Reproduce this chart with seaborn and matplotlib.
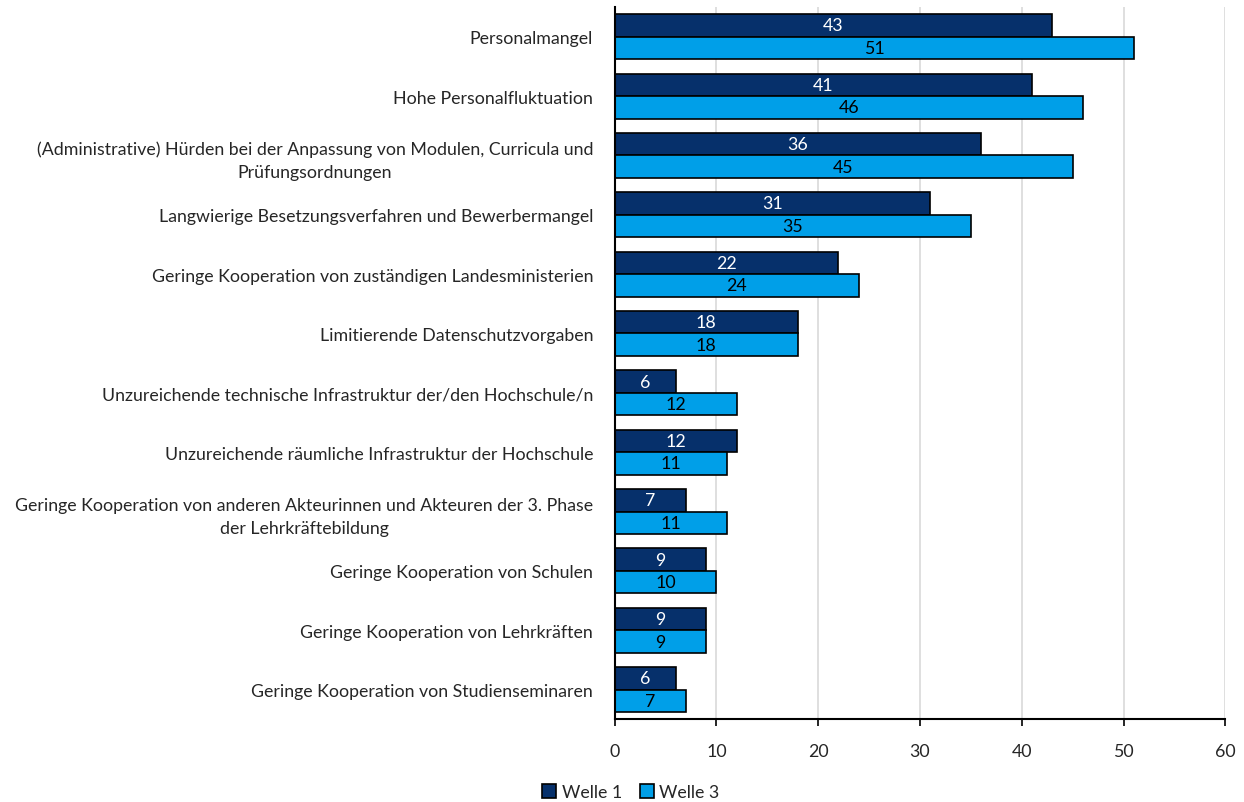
import pandas as pd
import matplotlib.pyplot as plt
import seaborn as sns

# categories (top to bottom) and values per wave
categories = [
    "Personalmangel",
    "Hohe Personalfluktuation",
    "(Administrative) Hürden bei der Anpassung von Modulen, Curricula und\nPrüfungsordnungen",
    "Langwierige Besetzungsverfahren und Bewerbermangel",
    "Geringe Kooperation von zuständigen Landesministerien",
    "Limitierende Datenschutzvorgaben",
    "Unzureichende technische Infrastruktur der/den Hochschule/n",
    "Unzureichende räumliche Infrastruktur der Hochschule",
    "Geringe Kooperation von anderen Akteurinnen und Akteuren der 3. Phase\nder Lehrkräftebildung",
    "Geringe Kooperation von Schulen",
    "Geringe Kooperation von Lehrkräften",
    "Geringe Kooperation von Studienseminaren",
]
welle_1 = [43, 41, 36, 31, 22, 18, 6, 12, 7, 9, 9, 6]
welle_3 = [51, 46, 45, 35, 24, 18, 12, 11, 11, 10, 9, 7]
series_names = ["Welle 1", "Welle 3"]

df = pd.DataFrame({"Kategorie": categories, "Welle 1": welle_1, "Welle 3": welle_3})
long_df = df.melt(id_vars="Kategorie", var_name="Welle", value_name="Wert")

sns.set_style("white")
plt.rcParams["font.family"] = ["Lato", "DejaVu Sans"]

colors = {"Welle 1": "#06306b", "Welle 3": "#009fe8"}
fs = 12.8

fig, ax = plt.subplots(figsize=(12.44, 8.03), dpi=100)
fig.subplots_adjust(left=0.494, right=0.985, top=0.99, bottom=0.103)

sns.barplot(data=long_df, y="Kategorie", x="Wert", hue="Welle", hue_order=series_names,
            order=categories, palette=colors, saturation=1, orient="h", width=0.76,
            edgecolor="black", linewidth=1.2, ax=ax, legend=True)

# value labels
for cont, name in zip(ax.containers, series_names):
    txt_color = "white" if name == "Welle 1" else "black"
    ax.bar_label(cont, labels=[f"{v:.0f}" for v in cont.datavalues], label_type="center",
                 color=txt_color, fontsize=fs)

ax.set_xlim(0, 60)
ax.set_xticks(range(0, 61, 10))
ax.xaxis.grid(True, color="#d9d9d9", linewidth=1.2)
ax.set_axisbelow(True)
ax.set_xlabel("")
ax.set_ylabel("")
for s in ["top", "right"]:
    ax.spines[s].set_visible(False)
ax.spines["left"].set_color("black")
ax.spines["bottom"].set_color("black")
ax.spines["left"].set_linewidth(1.5)
ax.spines["bottom"].set_linewidth(1.5)
ax.tick_params(axis="x", bottom=True, length=5, width=1.2, color="black", labelsize=fs, pad=12)
ax.tick_params(axis="y", left=False, labelsize=fs, pad=12)
for lbl in ax.get_yticklabels():
    lbl.set_horizontalalignment("right")
    lbl.set_multialignment("center")
    lbl.set_linespacing(1.55)

handles, labels = ax.get_legend_handles_labels()
ax.get_legend().remove()
fig.legend(handles, labels, loc="lower center", bbox_to_anchor=(0.507, -0.018), ncol=2,
           frameon=False, fontsize=fs, handlelength=0.8, handleheight=0.8,
           handletextpad=0.3, columnspacing=1.0)

plt.savefig("out.png", dpi=100)
plt.close()
